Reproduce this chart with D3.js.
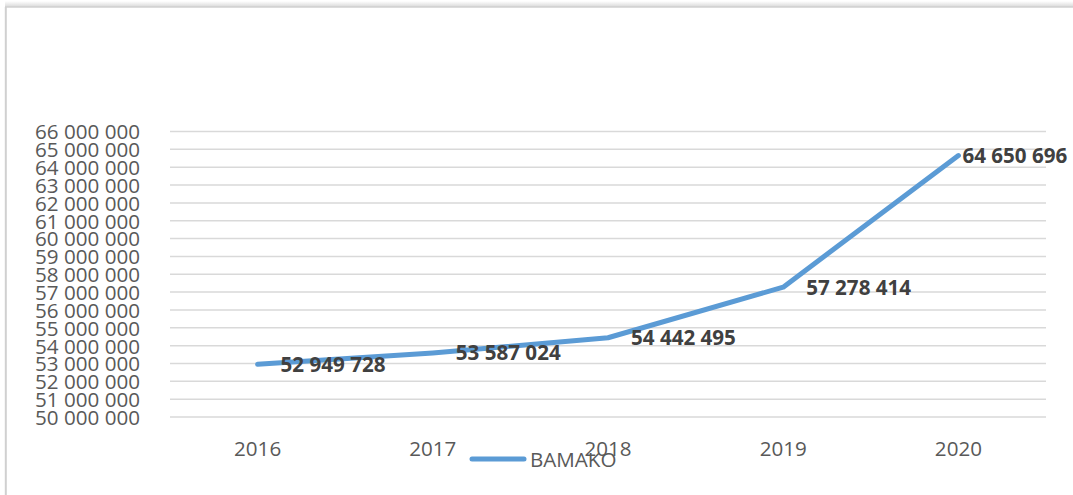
<!DOCTYPE html>
<html>
<head>
<meta charset="utf-8">
<script src="https://cdn.jsdelivr.net/npm/d3@7"></script>
<style>
  html, body { margin: 0; padding: 0; background: #fff; }
  svg { display: block; }
  text { font-family: "Open Sans", "Noto Sans", sans-serif; }
</style>
</head>
<body>
<svg id="chart" width="1073" height="495"></svg>
<script>
const categories = ["2016", "2017", "2018", "2019", "2020"];
const values = [52949728, 53587024, 54442495, 57278414, 64650696];
const valueLabels = ["52 949 728", "53 587 024", "54 442 495", "57 278 414", "64 650 696"];
const seriesName = "BAMAKO";
const yTicks = [50000000, 51000000, 52000000, 53000000, 54000000, 55000000, 56000000, 57000000,
                58000000, 59000000, 60000000, 61000000, 62000000, 63000000, 64000000, 65000000, 66000000];

const svg = d3.select("#chart");
const W = 1073, H = 495;

// frame shadow + border
const defs = svg.append("defs");
const g1 = defs.append("linearGradient").attr("id", "topShadow").attr("x1", 0).attr("y1", 0).attr("x2", 0).attr("y2", 1);
g1.append("stop").attr("offset", "0%").attr("stop-color", "#ffffff");
g1.append("stop").attr("offset", "100%").attr("stop-color", "#d8d8d8");
svg.append("rect").attr("x", 5).attr("y", 1).attr("width", W - 5).attr("height", 6).attr("fill", "url(#topShadow)");
svg.append("line").attr("x1", 5).attr("x2", W).attr("y1", 7).attr("y2", 7).attr("stroke", "#d0d0d0").attr("stroke-width", 1.5);
svg.append("line").attr("x1", 5.8).attr("x2", 5.8).attr("y1", 7).attr("y2", H).attr("stroke", "#d0d0d0").attr("stroke-width", 2);

const x0 = 170, x1 = 1046, yTop = 131.5, yBot = 417;
const x = d3.scaleBand().domain(categories).range([x0, x1]);
const y = d3.scaleLinear().domain([50000000, 66000000]).range([yBot, yTop]);

const fmt = v => d3.format(",")(v).replace(/,/g, " ");

// gridlines
svg.append("g").selectAll("line").data(yTicks).join("line")
  .attr("x1", x0).attr("x2", x1)
  .attr("y1", d => y(d)).attr("y2", d => y(d))
  .attr("stroke", "#d9d9d9").attr("stroke-width", 1.5);

// y axis labels
const yAxis = d3.axisLeft(y).tickValues(yTicks).tickFormat(fmt).tickSize(0).tickPadding(0);
const ya = svg.append("g").attr("transform", `translate(140,0)`).call(yAxis);
ya.select(".domain").remove();
ya.selectAll("text").attr("font-family", "'Open Sans', sans-serif").attr("font-size", 20.6)
  .attr("fill", "#595959").attr("dy", "0.36em");

// x axis labels
const xAxis = d3.axisBottom(x).tickSize(0).tickPadding(0);
const xa = svg.append("g").attr("transform", `translate(0,456)`).call(xAxis);
xa.select(".domain").remove();
xa.selectAll("text").attr("font-family", "'Open Sans', sans-serif").attr("font-size", 20.6)
  .attr("fill", "#595959").attr("dy", 0);

// line
const cx = d => x(d) + x.bandwidth() / 2;
const line = d3.line().x((d, i) => cx(categories[i])).y(d => y(d));
svg.append("path").datum(values).attr("d", line)
  .attr("fill", "none").attr("stroke", "#5b9bd5").attr("stroke-width", 5)
  .attr("stroke-linecap", "round").attr("stroke-linejoin", "round");

// data labels
const offsets = [23, 23, 23, 23, 4];
svg.append("g").selectAll("text").data(values).join("text")
  .attr("x", (d, i) => cx(categories[i]) + offsets[i])
  .attr("y", d => y(d))
  .attr("dy", "0.36em")
  .attr("font-size", 20.6).attr("font-weight", "bold").attr("fill", "#404040")
  .text((d, i) => valueLabels[i]);

// legend
svg.append("line").attr("x1", 472).attr("x2", 524).attr("y1", 459).attr("y2", 459)
  .attr("stroke", "#5b9bd5").attr("stroke-width", 5).attr("stroke-linecap", "round");
svg.append("text").attr("x", 530).attr("y", 466.5).attr("font-size", 20.6).attr("fill", "#595959").text(seriesName);
</script>
</body>
</html>
